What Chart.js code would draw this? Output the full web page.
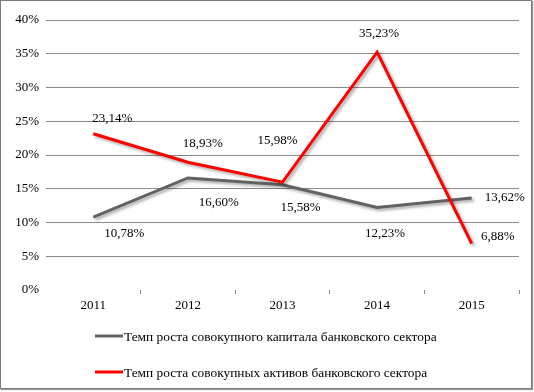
<!DOCTYPE html>
<html>
<head>
<meta charset="utf-8">
<script src="https://cdn.jsdelivr.net/npm/chart.js@4.4.1/dist/chart.umd.min.js"></script>
<style>
  html, body { margin: 0; padding: 0; background: #fff; }
  #wrap { position: relative; width: 534px; height: 392px; }
  #frame {
    position: absolute; left: 0; top: 0; width: 530px; height: 387px;
    border: 1px solid #7a7a7a; box-shadow: 1px 1px 1px #9a9a9a;
    pointer-events: none;
  }
</style>
</head>
<body>
<div id="wrap">
  <canvas id="chLine" width="534" height="392"></canvas>
  <div id="frame"></div>
</div>
<script>
"use strict";

const years = ['2011', '2012', '2013', '2014', '2015'];
const capitalGrowth = [10.78, 16.60, 15.58, 12.23, 13.62];
const assetsGrowth = [23.14, 18.93, 15.98, 35.23, 6.88];
const seriesNames = [
  'Темп роста совокупного капитала банковского сектора',
  'Темп роста совокупных активов банковского сектора'
];

// label offsets from the point (px), per series
const labelShift = [
  [[31, 16], [31, 25], [18, 23], [8, 26], [33, 0]],
  [[19, -15], [15, -19], [-5, -42], [2, -19], [26, -7]]
];

const serif = "'Liberation Serif', 'Times New Roman', serif";

function fmt(v){
  return v.toFixed(2).replace('.', ',') + '%';
}

const shadowPlugin = {
  id: 'shadow',
  beforeDatasetDraw(chart){
    const ctx = chart.ctx;
    ctx.save();
    ctx.shadowColor = 'rgba(0,0,0,0.35)';
    ctx.shadowOffsetX = 2;
    ctx.shadowOffsetY = 2;
    ctx.shadowBlur = 3;
  },
  afterDatasetDraw(chart){
    chart.ctx.restore();
  }
};

const labelPlugin = {
  id: 'pointLabels',
  afterDatasetsDraw(chart){
    const ctx = chart.ctx;
    ctx.save();
    ctx.font = '13px ' + serif;
    ctx.fillStyle = '#000';
    ctx.textAlign = 'center';
    ctx.textBaseline = 'middle';
    chart.data.datasets.forEach((ds, i) => {
      const meta = chart.getDatasetMeta(i);
      meta.data.forEach((pt, j) => {
        const s = labelShift[i][j];
        ctx.fillText(fmt(ds.data[j]), pt.x + s[0], pt.y + s[1]);
      });
    });
    ctx.restore();
  }
};

const legendPlugin = {
  id: 'sideLegend',
  afterDraw(chart){
    const ctx = chart.ctx;
    ctx.save();
    ctx.font = '13.4px ' + serif;
    ctx.fillStyle = '#000';
    ctx.textBaseline = 'middle';
    chart.data.datasets.forEach((ds, i) => {
      const y = 336 + i * 36;
      ctx.strokeStyle = ds.borderColor;
      ctx.lineWidth = 3;
      ctx.beginPath();
      ctx.moveTo(95, y);
      ctx.lineTo(123, y);
      ctx.stroke();
      ctx.fillText(ds.label, 124, y + 1);
    });
    ctx.restore();
  }
};

const chartData = {
  labels: years,
  datasets: [
    {
      label: seriesNames[0],
      data: capitalGrowth,
      borderColor: '#626262',
      borderWidth: 3,
      pointRadius: 0,
      tension: 0,
      order: 2
    },
    {
      label: seriesNames[1],
      data: assetsGrowth,
      borderColor: '#ff0000',
      borderWidth: 3,
      pointRadius: 0,
      tension: 0,
      order: 1
    }
  ]
};

const options = {
  responsive: false,
  animation: false,
  layout: { padding: { left: 0, right: 15, top: 20, bottom: 72 } },
  plugins: { legend: { display: false }, tooltip: { enabled: false } },
  scales: {
    x: {
      offset: true,
      border: { display: false },
      grid: {
        offset: true,
        drawOnChartArea: false,
        tickLength: 4,
        color: c => c.index === 0 ? 'rgba(0,0,0,0)' : '#8a8a8a'
      },
      ticks: { color: '#000', font: { family: serif, size: 13 }, padding: 4 },
      afterFit: s => { s.height = 30; }
    },
    y: {
      min: 0,
      max: 40,
      border: { display: false },
      grid: {
        drawTicks: false,
        color: c => c.index === 0 ? 'rgba(0,0,0,0)' : '#8a8a8a'
      },
      ticks: {
        stepSize: 5,
        padding: 7,
        color: '#000',
        font: { family: serif, size: 13 },
        callback: v => v + '%'
      },
      afterFit: s => { s.width = 46; }
    }
  }
};

const chLine = document.getElementById('chLine');
if (chLine) {
  new Chart(chLine, {
    type: 'line',
    data: chartData,
    options: options,
    plugins: [shadowPlugin, labelPlugin, legendPlugin]
  });
}
</script>
</body>
</html>
